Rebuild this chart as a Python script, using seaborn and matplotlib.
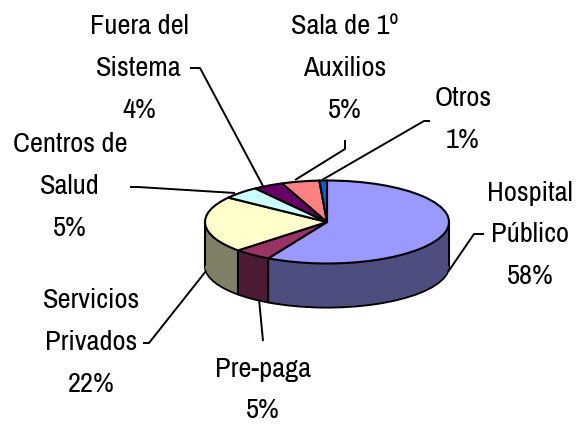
import matplotlib
matplotlib.use("Agg")
import matplotlib.pyplot as plt
from matplotlib import font_manager as fm
import numpy as np
import seaborn as sns

categories = ["Hospital\nPúblico", "Pre-paga", "Servicios\nPrivados", "Centros de\nSalud",
              "Fuera del\nSistema", "Sala de 1º\nAuxilios", "Otros"]
values = [58, 5, 22, 5, 4, 5, 1]
top_colors = ["#9999FF", "#993366", "#FFFFCC", "#CCFFFF", "#660066", "#FF8080", "#0066CC"]
side_colors = ["#4D4D80", "#4D1A33", "#808066", "#668080", "#330033", "#804040", "#003366"]

W, H = 576, 425
CX, CY, RX, RY, DEPTH = 327, 222, 122, 41.5, 44
S = RX / RY

label_pos = [(530, 235), (263, 390), (91, 343), (70, 187), (139, 68), (345, 68), (463, 119)]
leaders = [
    [(484, 234), (474, 234), (448, 272)],
    [(259, 299), (263, 341)],
    [(143, 343), (149, 343), (206, 271)],
    [(130, 187), (138, 187), (235, 193)],
    [(190, 68), (200, 68), (263, 186)],
    [(345, 140), (345, 149), (295, 180)],
    [(430, 121), (424, 121), (322, 180)],
]

sns.set_theme(style="white")
avail = {f.name for f in fm.fontManager.ttflist}
narrow = "Archivo Narrow" in avail
plt.rcParams["font.family"] = ["Archivo Narrow" if narrow else "Liberation Sans", "DejaVu Sans"]
FS = 20.5 if narrow else 17
LS = 1.85 if narrow else 2.1

fig = plt.figure(figsize=(W / 100, H / 100), dpi=100, facecolor="white")
ax = fig.add_axes([0, 0, 1, 1])


def Y(py):
    return (H - py) * S


LW = 1.5
ax.pie(values, colors=side_colors, center=(CX, Y(CY + DEPTH)), radius=RX, startangle=90,
       counterclock=False, wedgeprops=dict(edgecolor="black", linewidth=LW))
for k in range(DEPTH - 1, 0, -1):
    ax.pie(values, colors=side_colors, center=(CX, Y(CY + k)), radius=RX, startangle=90,
           counterclock=False, wedgeprops=dict(edgecolor="none", linewidth=0))

# vertical edges of the rim, from the slice boundaries
bounds = 90 - 3.6 * np.cumsum(values)
for b in bounds:
    s = np.sin(np.radians(b))
    if s < 0:
        x = CX + RX * np.cos(np.radians(b))
        yt = CY - RY * s
        ax.plot([x, x], [Y(yt), Y(yt + DEPTH)], color="black", lw=LW, solid_capstyle="butt")
for x in (CX - RX, CX + RX):
    ax.plot([x, x], [Y(CY), Y(CY + DEPTH)], color="black", lw=LW, solid_capstyle="butt")

ax.pie(values, colors=top_colors, center=(CX, Y(CY)), radius=RX, startangle=90,
       counterclock=False, wedgeprops=dict(edgecolor="black", linewidth=LW))

for pts in leaders:
    xs, ys = zip(*pts)
    ax.plot(xs, [Y(v) for v in ys], color="black", lw=1.4, solid_capstyle="butt")

for name, v, (x, y) in zip(categories, values, label_pos):
    ax.text(x, Y(y), f"{name}\n{v}%", ha="center", va="center", fontsize=FS,
            color="black", linespacing=LS)

ax.set_aspect("auto")
ax.set_xlim(0, W)
ax.set_ylim(0, H * S)
ax.axis("off")
fig.savefig("out.png", dpi=100, facecolor="white")
